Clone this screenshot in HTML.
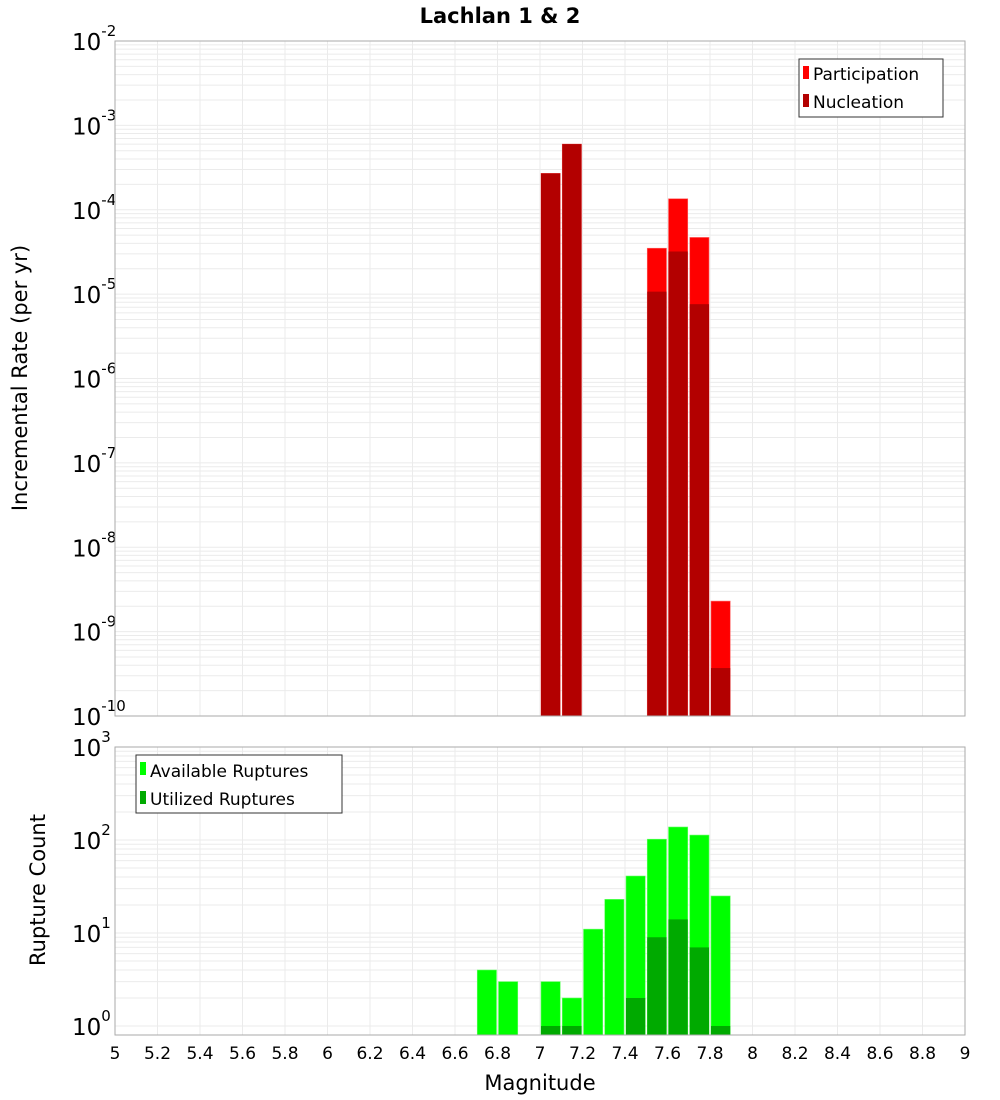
<!DOCTYPE html>
<html><head><meta charset="utf-8">
<style>
html,body{margin:0;padding:0;background:#fff;}
svg{display:block;font-family:"DejaVu Sans","Liberation Sans",sans-serif;}
</style></head>
<body>
<svg id="chart" width="1000" height="1100">
<text x="500" y="23" text-anchor="middle" font-size="21" font-weight="bold">Lachlan 1 &amp; 2</text>
<text transform="translate(27,378) rotate(-90)" text-anchor="middle" font-size="21">Incremental Rate (per yr)</text>
<text transform="translate(45,890) rotate(-90)" text-anchor="middle" font-size="21">Rupture Count</text>
<text x="540" y="1090" text-anchor="middle" font-size="21">Magnitude</text>
<g id="gtop"></g>
<g id="gbot"></g>
<g>
<rect x="799" y="59" width="144" height="58" fill="#fff" stroke="#333"/>
<rect x="803" y="66" width="6" height="13" fill="#ff0000"/>
<text x="813" y="80" font-size="17">Participation</text>
<rect x="803" y="94" width="6" height="13" fill="#b30000"/>
<text x="813" y="108" font-size="17">Nucleation</text>
</g>
<g>
<rect x="136" y="755" width="206" height="58" fill="#fff" stroke="#333"/>
<rect x="140" y="762" width="6" height="13" fill="#00ff00"/>
<text x="150" y="777" font-size="17">Available Ruptures</text>
<rect x="140" y="791" width="6" height="13" fill="#00aa00"/>
<text x="150" y="805" font-size="17">Utilized Ruptures</text>
</g>
</svg>
<script>
const mags = [6.7, 6.8, 7.0, 7.1, 7.2, 7.3, 7.4, 7.5, 7.6, 7.7, 7.8];
const participation = [0, 0, 2.7e-4, 6.0e-4, 0, 0, 0, 3.5e-5, 1.35e-4, 4.7e-5, 2.3e-9];
const nucleation = [0, 0, 2.7e-4, 6.0e-4, 0, 0, 0, 1.07e-5, 3.2e-5, 7.6e-6, 3.7e-10];
const available = [4, 3, 3, 2, 11, 23, 41, 102, 138, 113, 25];
const utilized = [0, 0, 1, 1, 0, 0, 2, 9, 14, 7, 1];
const xTicks = ["5","5.2","5.4","5.6","5.8","6","6.2","6.4","6.6","6.8","7","7.2","7.4","7.6","7.8","8","8.2","8.4","8.6","8.8","9"];

(function(){
const NS = "http://www.w3.org/2000/svg";
const X0 = 115, X1 = 965, XMIN = 5, XMAX = 9;
const xs = v => X0 + (v - XMIN) / (XMAX - XMIN) * (X1 - X0);
const T = {top: 41, bot: 716, lmin: -10, lmax: -2};
const B = {top: 747, bot: 1035, lmin: Math.log10(0.8), lmax: 3};
function ys(P, v){ return P.bot - (Math.log10(v) - P.lmin) / (P.lmax - P.lmin) * (P.bot - P.top); }
function el(parent, tag, attrs){
  const e = document.createElementNS(NS, tag);
  for (const k in attrs) e.setAttribute(k, attrs[k]);
  parent.appendChild(e); return e;
}
function panel(g, P, d0, d1, name){
  for (let d = d0; d <= d1; d++) {
    for (let m = 1; m <= 9; m++) {
      const v = m * Math.pow(10, d);
      const lv = Math.log10(v);
      if (lv < P.lmin - 1e-9 || lv > P.lmax + 1e-9) continue;
      const y = ys(P, v);
      const ln = el(g, "line", {x1: X0, x2: X1, y1: y, y2: y, stroke: "#ebebeb", "stroke-width": 1});
      
      
    }
  }
  for (let i = 0; i < xTicks.length; i++) {
    const x = xs(parseFloat(xTicks[i]));
    const ln = el(g, "line", {x1: x, x2: x, y1: P.top, y2: P.bot, stroke: "#ebebeb", "stroke-width": 1});
    
    
  }
  for (let d = d0; d <= d1; d++) {
    if (d < P.lmin - 1e-9) continue;
    const y = ys(P, Math.pow(10, d));
    const t = el(g, "text", {x: 72, y: y + 9, "font-size": 23});
    
    
    t.textContent = "10";
    const s = el(t, "tspan", {dy: -14, "font-size": 15});
    s.textContent = String(d);
  }
}
const gTop = document.getElementById("gtop");
const gBot = document.getElementById("gbot");
panel(gTop, T, -10, -2, 'top');
panel(gBot, B, 0, 3, 'bottom');

const bw = 0.1;
for (let i = 0; i < mags.length; i++) {
  const xa = xs(mags[i]) + 1, xb = xs(mags[i] + bw) - 1;
  if (participation[i] > 0) {
    const y = ys(T, participation[i]);
    const r = el(gTop, "rect", {x: xa, y: y, width: xb - xa, height: T.bot - y, fill: "#ff0000", stroke: "#ff6666", "stroke-width": 0.6});
    
    
  }
  if (nucleation[i] > 0) {
    const y = ys(T, nucleation[i]);
    const r = el(gTop, "rect", {x: xa, y: y, width: xb - xa, height: T.bot - y, fill: "#b30000"});
    
    
  }
  if (available[i] > 0) {
    const y = ys(B, available[i]);
    const r = el(gBot, "rect", {x: xa, y: y, width: xb - xa, height: B.bot - y, fill: "#00ff00", stroke: "#66ff66", "stroke-width": 0.6});
    
    
  }
  if (utilized[i] > 0) {
    const y = ys(B, utilized[i]);
    const r = el(gBot, "rect", {x: xa, y: y, width: xb - xa, height: B.bot - y, fill: "#00aa00"});
    
    
  }
}
[[T, gTop], [B, gBot]].forEach(function(pair){
  const P = pair[0], g = pair[1];
  const f = el(g, "rect", {x: X0, y: P.top, width: X1 - X0, height: P.bot - P.top, fill: "none", stroke: "#aaaaaa", "stroke-width": 1});
  
  
});
for (let i = 0; i < xTicks.length; i++) {
  const t = el(gBot, "text", {x: xs(parseFloat(xTicks[i])), y: 1059, "text-anchor": "middle", "font-size": 17});
  
  
  t.textContent = xTicks[i];
}
})();
</script>
</body></html>
